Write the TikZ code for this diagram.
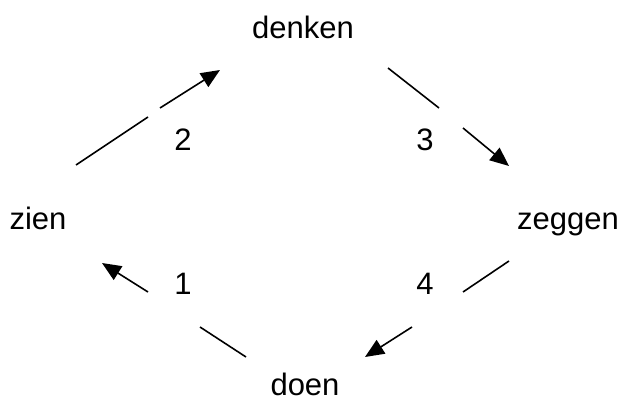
\documentclass[tikz,border=0pt]{standalone}
\usepackage{fontspec}
\setmainfont{Liberation Sans}
\usetikzlibrary{arrows.meta}
\begin{document}
\begin{tikzpicture}[x=1pt,y=-1pt,
  word/.style={anchor=base,inner sep=0pt,font=\fontsize{31}{36}\selectfont},
  seg/.style={line width=1.6pt},
  arr/.style={line width=1.6pt,-{Triangle[length=19pt,width=16pt]}}]
\useasboundingbox (0,0) rectangle (624,401);
\node[word] (denken) at (303,39) {denken};
\node[word] (zien) at (38,229) {zien};
\node[word] (zeggen) at (568,229) {zeggen};
\node[word] (doen) at (305,395) {doen};
\node[word] (n2) at (183,151) {2};
\node[word] (n3) at (425,151) {3};
\node[word] (n1) at (183,294) {1};
\node[word] (n4) at (425,294) {4};
% arrow 2
\coordinate (a2s) at (76,165); \coordinate (a2m) at (148,117);
\coordinate (a2n) at (160,108); \coordinate (a2e) at (220,70);
\draw[seg] (a2s) -- (a2m);
\draw[arr] (a2n) -- (a2e);
% arrow 3
\coordinate (a3s) at (388,68); \coordinate (a3m) at (439,108);
\coordinate (a3n) at (463,128); \coordinate (a3e) at (509,166);
\draw[seg] (a3s) -- (a3m);
\draw[arr] (a3n) -- (a3e);
% arrow 4
\coordinate (a4s) at (509,261); \coordinate (a4m) at (463,292);
\coordinate (a4n) at (412,327); \coordinate (a4e) at (365,357);
\draw[seg] (a4s) -- (a4m);
\draw[arr] (a4n) -- (a4e);
% arrow 1
\coordinate (a1s) at (246,357); \coordinate (a1m) at (200,327);
\coordinate (a1n) at (148,292); \coordinate (a1e) at (102,263);
\draw[seg] (a1s) -- (a1m);
\draw[arr] (a1n) -- (a1e);
\end{tikzpicture}
\end{document}
